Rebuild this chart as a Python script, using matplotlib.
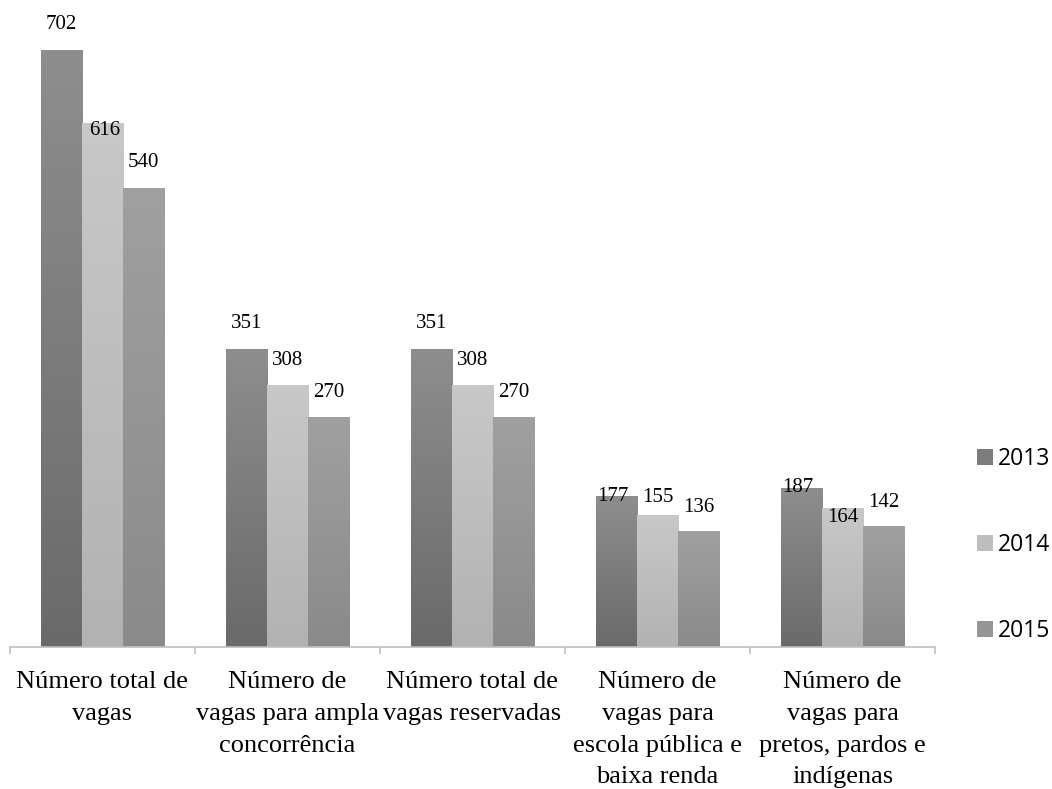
import numpy as np
import matplotlib.pyplot as plt
from matplotlib.colors import LinearSegmentedColormap
from matplotlib.patches import Patch

categories = ["Número total de\nvagas",
              "Número de\nvagas para ampla\nconcorrência",
              "Número total de\nvagas reservadas",
              "Número de\nvagas para\nescola pública e\nbaixa renda",
              "Número de\nvagas para\npretos, pardos e\nindígenas"]
years = ["2013", "2014", "2015"]
v2013 = [702, 351, 351, 177, 187]
v2014 = [616, 308, 308, 155, 164]
v2015 = [540, 270, 270, 136, 142]

# gradient colours per series (top, bottom)
grads = [("#8e8e8e", "#6a6a6a"), ("#c8c8c8", "#b2b2b2"), ("#a0a0a0", "#8a8a8a")]
legend_cols = ["#7c7c7c", "#bebebe", "#959595"]
# label offset above bar top, in pixels (as placed in the original)
label_dy = [[26, 25, 25, 0, 0], [-7, 25, 25, 18, -10], [25, 25, 25, 24, 24]]
label_dx = [[0, 0, 0, -4, -4], [2, 0, 0, 0, 0], [0, 0, 0, 0, 0]]

fig = plt.figure(figsize=(10.52, 7.89), dpi=100)
ax = fig.add_axes([10 / 1052, 142 / 789, 925 / 1052, 647 / 789])

x = np.arange(len(categories))
w = 0.222
grad = np.linspace(0, 1, 256).reshape(-1, 1)

for i, vals in enumerate([v2013, v2014, v2015]):
    bars = ax.bar(x + (i - 1) * w, vals, w, color="none", edgecolor="none")
    cmap = LinearSegmentedColormap.from_list("g%d" % i, [grads[i][1], grads[i][0]])
    for j, b in enumerate(bars):
        x0, y0 = b.get_x(), b.get_y()
        im = ax.imshow(grad, extent=[x0, x0 + b.get_width(), y0, y0 + b.get_height()],
                       origin="lower", aspect="auto", cmap=cmap, zorder=1)
        im.set_clip_path(b)
        ax.annotate(str(vals[j]), (b.get_x() + b.get_width() / 2, vals[j]),
                    xytext=(label_dx[i][j], label_dy[i][j]), textcoords="offset pixels",
                    ha="center", va="center", fontsize=15, family="Liberation Serif",
                    color="black", zorder=3)

ax.set_xlim(-0.5, len(categories) - 0.5)
ax.set_ylim(0, 760.8)

for s in ["top", "right", "left"]:
    ax.spines[s].set_visible(False)
ax.spines["bottom"].set_color("#bfbfbf")
ax.spines["bottom"].set_linewidth(1.2)
ax.set_yticks([])

ax.set_xticks(x)
ax.set_xticklabels(categories, fontsize=19, family="Liberation Serif", linespacing=1.57)
ax.tick_params(axis="x", which="major", length=0, pad=17.5)
ax.set_xticks(np.arange(-0.5, len(categories)), minor=True)
ax.tick_params(axis="x", which="minor", length=5, color="#bfbfbf", width=1.2)

handles = [Patch(facecolor=c, edgecolor="none") for c in legend_cols]
fig.legend(handles, years, loc="center left", bbox_to_anchor=(977 / 1052, 1 - 545 / 789),
           frameon=False, prop={"family": "Open Sans", "size": 16.5},
           borderpad=0, borderaxespad=0,
           handlelength=0.68, handleheight=0.68, handletextpad=0.22, labelspacing=2.7)

fig.savefig("out.png", dpi=100)
